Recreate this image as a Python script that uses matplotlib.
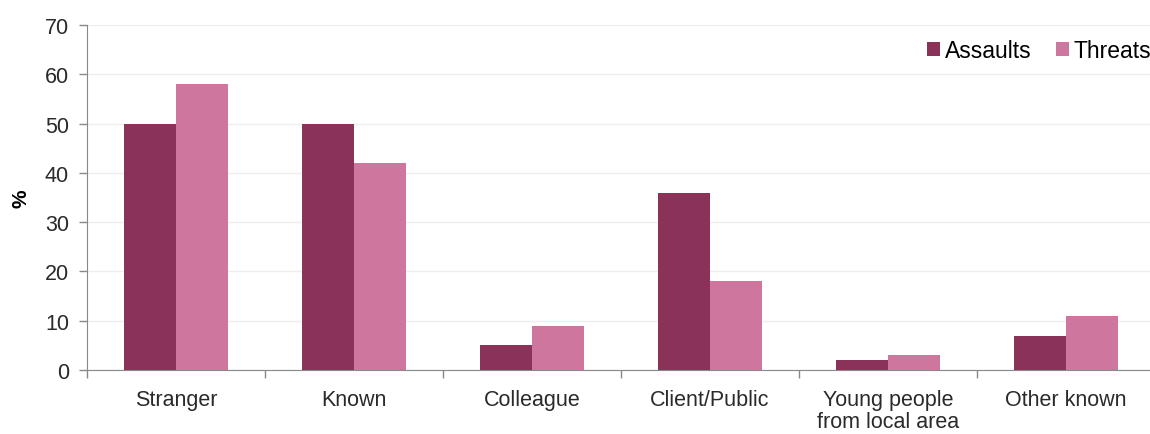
import matplotlib.pyplot as plt
import numpy as np

plt.rcParams['font.family'] = ['Liberation Sans', 'DejaVu Sans']

# Data
categories = ["Stranger", "Known", "Colleague", "Client/Public",
              "Young people\nfrom local area", "Other known"]
assaults = [50, 50, 5, 36, 2, 7]
threats = [58, 42, 9, 18, 3, 11]

fig = plt.figure(figsize=(11.5, 4.35), dpi=100)
ax = fig.add_axes([87 / 1150, 1 - 371 / 435, 1068 / 1150, 345 / 435])

x = np.arange(len(categories))
w = 0.29
ax.bar(x - w / 2, assaults, width=w, color="#8B3259", label="Assaults", zorder=3)
ax.bar(x + w / 2, threats, width=w, color="#CF769E", label="Threats", zorder=3)

ax.set_xlim(-0.5, len(categories) - 0.5)
ax.set_ylim(0, 70)
ax.set_yticks(range(0, 71, 10))
ax.grid(axis="y", color="#EEEEEE", linewidth=1, zorder=0)

# Category labels centred, ticks on the group boundaries
ax.set_xticks(x)
ax.set_xticklabels(categories, fontsize=15.5, color="#2A2A2A", linespacing=1.05)
ax.tick_params(axis="x", length=0, pad=14)
ax.set_xticks(np.arange(-0.5, len(categories), 1), minor=True)
ax.tick_params(axis="x", which="minor", length=6, color="#898989", width=1)
ax.tick_params(axis="y", labelsize=15.5, labelcolor="#2A2A2A", length=6,
               color="#898989", width=1, pad=7)

for side in ["top", "right"]:
    ax.spines[side].set_visible(False)
for side in ["left", "bottom"]:
    ax.spines[side].set_color("#898989")

ax.set_ylabel("%", fontsize=15, fontweight="bold", labelpad=10)

ax.legend(loc="upper right", bbox_to_anchor=(1.005, 0.985), ncol=2, frameon=False,
          fontsize=16.5, handlelength=0.55, handleheight=0.55, handletextpad=0.2,
          columnspacing=1.1, borderaxespad=0)

plt.savefig("out.png", dpi=100)
